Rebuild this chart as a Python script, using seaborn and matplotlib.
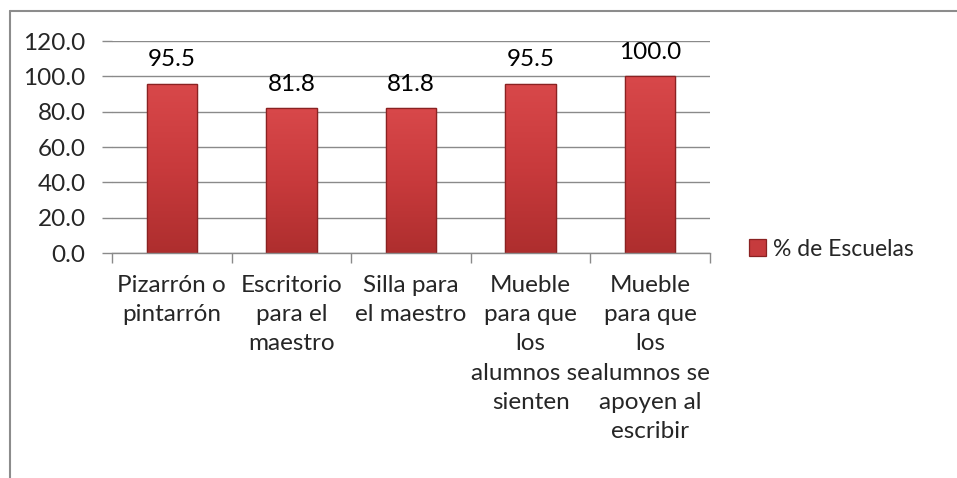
import matplotlib
matplotlib.use("Agg")
import matplotlib.pyplot as plt
import seaborn as sns
import pandas as pd
import numpy as np
from matplotlib.patches import Rectangle
from matplotlib.lines import Line2D
from matplotlib.colors import LinearSegmentedColormap

categories = [
    "Pizarrón o\npintarrón",
    "Escritorio\npara el\nmaestro",
    "Silla para\nel maestro",
    "Mueble\npara que\nlos\nalumnos se\nsienten",
    "Mueble\npara que\nlos\nalumnos se\napoyen al\nescribir",
]
values = [95.5, 81.8, 81.8, 95.5, 100.0]
yticks = [0, 20, 40, 60, 80, 100, 120]
series_name = "% de Escuelas"

sns.set_theme(style="white")
plt.rcParams["font.family"] = ["Lato", "DejaVu Sans"]
FS = 17.5

df = pd.DataFrame({"cat": categories, "val": values})

fig = plt.figure(figsize=(9.57, 4.78), dpi=100)
ax = fig.add_axes([112 / 957, 1 - 253 / 478, (710 - 112) / 957, (253 - 41) / 478])

bar_color = "#C63B3D"
sns.barplot(data=df, x="cat", y="val", ax=ax, color=bar_color, width=0.42,
            edgecolor="#8A2222", linewidth=0.9, saturation=1)

ax.set_ylim(0, 120)
ax.set_xlim(-0.5, len(categories) - 0.5)

# vertical gradient fill on each bar
cmap = LinearSegmentedColormap.from_list("bar", ["#AE2E2E", "#C83A3C", "#D8484A"])
grad = np.linspace(0, 1, 256).reshape(-1, 1)
for p in list(ax.patches):
    x0 = p.get_x(); w = p.get_width(); h = p.get_height()
    im = ax.imshow(grad, cmap=cmap, aspect="auto", origin="lower",
                   extent=(x0, x0 + w, 0, h), zorder=p.get_zorder() + 0.1)
    im.set_clip_path(p)
    ax.add_patch(Rectangle((x0, 0), w, h, facecolor="none", edgecolor="#8A2222",
                           linewidth=0.9, zorder=p.get_zorder() + 0.2))
ax.set_xlim(-0.5, len(categories) - 0.5)
ax.set_ylim(0, 120)

ax.set_yticks(yticks)
ax.set_yticklabels([f"{t:.1f}" for t in yticks], fontsize=FS)
ax.set_xlabel("")
ax.set_ylabel("")
ax.yaxis.grid(True, color="#8A8A8A", linewidth=1.0)
ax.set_axisbelow(True)

for s in ["top", "right", "left"]:
    ax.spines[s].set_visible(False)
ax.spines["bottom"].set_color("#8A8A8A")
ax.spines["bottom"].set_linewidth(1.0)

ax.tick_params(axis="y", which="both", left=True, length=7, width=1.0, color="#8A8A8A", pad=12)
ax.set_xticks(range(len(categories)))
ax.set_xticklabels(categories, fontsize=FS, linespacing=1.49)
ax.tick_params(axis="x", which="major", bottom=False, pad=9.5)
ax.set_xticks([i - 0.5 for i in range(len(categories) + 1)], minor=True)
ax.tick_params(axis="x", which="minor", bottom=True, length=7, width=1.0, color="#8A8A8A")

for i, v in enumerate(values):
    ax.annotate(f"{v:.1f}", xy=(i, v), xytext=(0, 17.5), textcoords="offset points",
                ha="center", va="center", fontsize=FS, color="black")

# legend
handle = Rectangle((0, 0), 1, 1, facecolor=bar_color, edgecolor="#8A2222", linewidth=0.9)
fig.legend([handle], [series_name], loc="center left", bbox_to_anchor=(728 / 957, 1 - 249 / 478),
           frameon=False, fontsize=16.5, handlelength=0.75, handleheight=0.75, handletextpad=0.3)

# outer chart frame
fig.add_artist(Line2D([10 / 957, 1.0], [1 - 11 / 478] * 2, color="#8C8C8C", linewidth=1.5,
                      transform=fig.transFigure))
fig.add_artist(Line2D([10 / 957] * 2, [0, 1 - 11 / 478], color="#8C8C8C", linewidth=1.5,
                      transform=fig.transFigure))

fig.savefig("out.png", dpi=100)
